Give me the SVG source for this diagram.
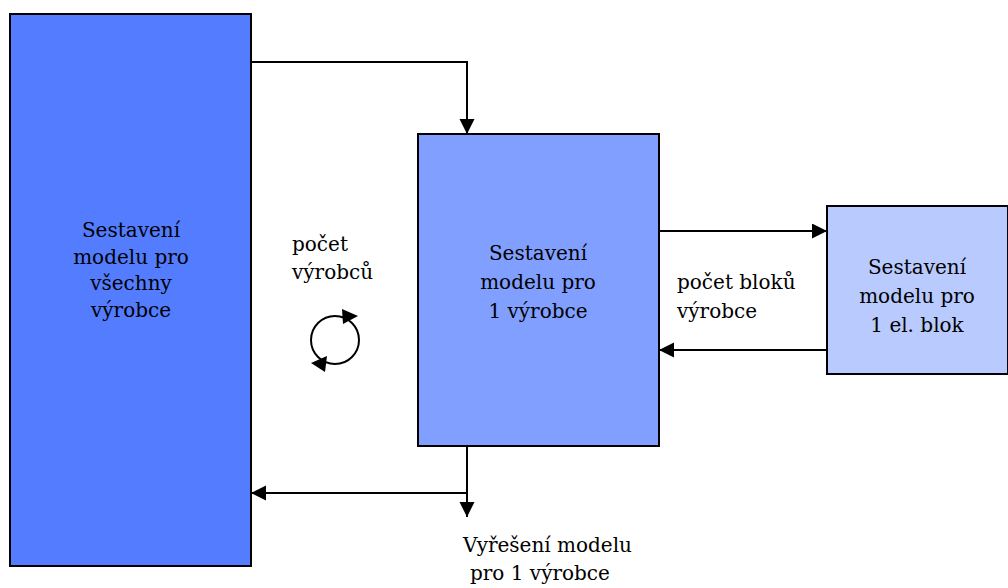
<svg xmlns="http://www.w3.org/2000/svg" width="1008" height="588" viewBox="0 0 1008 588">
  <style>
    .box { stroke: #000; stroke-width: 2; }
    .wire { fill: none; stroke: #000; stroke-width: 2; }
    .txt { font-family: "DejaVu Serif", serif; font-size: 20px; fill: #000; }
    .ctr { text-anchor: middle; }
  </style>
  <defs>
    <marker id="arrow" markerWidth="16" markerHeight="16" refX="15" refY="7.5" orient="auto" markerUnits="userSpaceOnUse">
      <path d="M0,0 L15,7.5 L0,15 Z" fill="#000"/>
    </marker>
  </defs>

  <rect width="1008" height="588" fill="#fff"/>

  <g id="node-all">
    <rect class="box" x="10" y="14" width="241" height="552" fill="#537cff"/>
    <g class="txt ctr">
      <text x="131" y="237">Sestavení</text>
      <text x="131" y="264">modelu pro</text>
      <text x="131" y="290">všechny</text>
      <text x="131" y="317">výrobce</text>
    </g>
  </g>

  <g id="node-one">
    <rect class="box" x="418" y="134" width="241" height="312" fill="#809fff"/>
    <g class="txt ctr">
      <text x="538" y="260">Sestavení</text>
      <text x="538" y="289">modelu pro</text>
      <text x="538" y="318">1 výrobce</text>
    </g>
  </g>

  <g id="node-block">
    <rect class="box" x="827" y="206" width="181" height="168" fill="#b9caff"/>
    <g class="txt ctr">
      <text x="917" y="274">Sestavení</text>
      <text x="917" y="303">modelu pro</text>
      <text x="917" y="332">1 el. blok</text>
    </g>
  </g>

  <g id="connectors">
    <polyline class="wire" points="251,62 467,62 467,134" marker-end="url(#arrow)"/>
    <line class="wire" x1="659" y1="231" x2="827" y2="231" marker-end="url(#arrow)"/>
    <line class="wire" x1="827" y1="350" x2="659" y2="350" marker-end="url(#arrow)"/>
    <line class="wire" x1="467" y1="446" x2="467" y2="517" marker-end="url(#arrow)"/>
    <line class="wire" x1="467" y1="493" x2="251" y2="493" marker-end="url(#arrow)"/>
  </g>

  <g id="loop-icon">
    <circle class="wire" cx="335" cy="340" r="24"/>
    <polygon points="342,309 358,316 343,324" fill="#000"/>
    <polygon points="311,363 327,356 325,372" fill="#000"/>
  </g>

  <g id="labels" class="txt">
    <text x="292" y="251">počet</text>
    <text x="292" y="279">výrobců</text>
    <text x="677" y="289">počet bloků</text>
    <text x="677" y="318">výrobce</text>
    <text x="463" y="552">Vyřešení modelu</text>
    <text x="470" y="580">pro 1 výrobce</text>
  </g>
</svg>
